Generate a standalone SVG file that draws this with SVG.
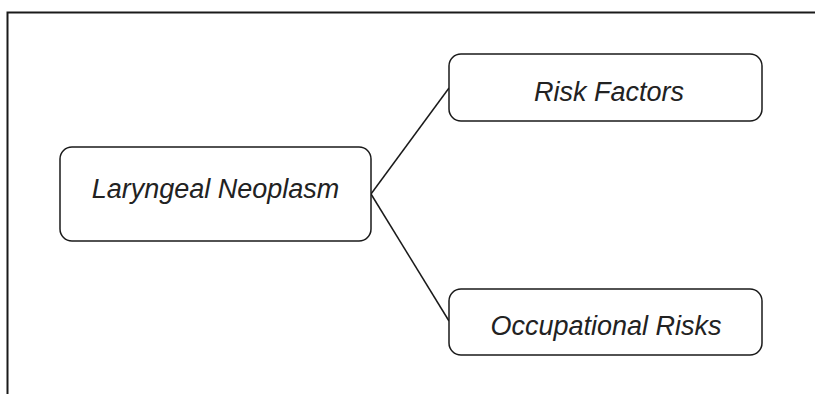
<svg xmlns="http://www.w3.org/2000/svg" width="815" height="394" viewBox="0 0 815 394">
  <style>
    .frame { fill: none; stroke: #1a1a1a; stroke-width: 2; }
    .box { fill: #ffffff; stroke: #1a1a1a; stroke-width: 1.5; }
    .edge { fill: none; stroke: #1a1a1a; stroke-width: 1.5; }
    .label { font-family: "Liberation Sans", Arial, sans-serif; font-style: italic; font-size: 27px; fill: #222222; text-anchor: middle; }
  </style>
  <rect width="815" height="394" fill="#ffffff"/>
  <!-- page frame (top and left edges) -->
  <path class="frame" d="M7.5,394 V12.5 H815"/>
  <g id="connectors">
    <line class="edge" x1="371" y1="194" x2="449" y2="88"/>
    <line class="edge" x1="371" y1="194" x2="449" y2="321"/>
  </g>
  <g id="laryngeal-neoplasm">
    <rect class="box" x="60" y="147" width="311" height="94" rx="12"/>
    <text class="label" x="215.5" y="198">Laryngeal Neoplasm</text>
  </g>
  <g id="risk-factors">
    <rect class="box" x="449" y="54" width="313" height="67" rx="12"/>
    <text class="label" x="609" y="101">Risk Factors</text>
  </g>
  <g id="occupational-risks">
    <rect class="box" x="449" y="289" width="313" height="66" rx="12"/>
    <text class="label" x="606" y="335">Occupational Risks</text>
  </g>
</svg>
